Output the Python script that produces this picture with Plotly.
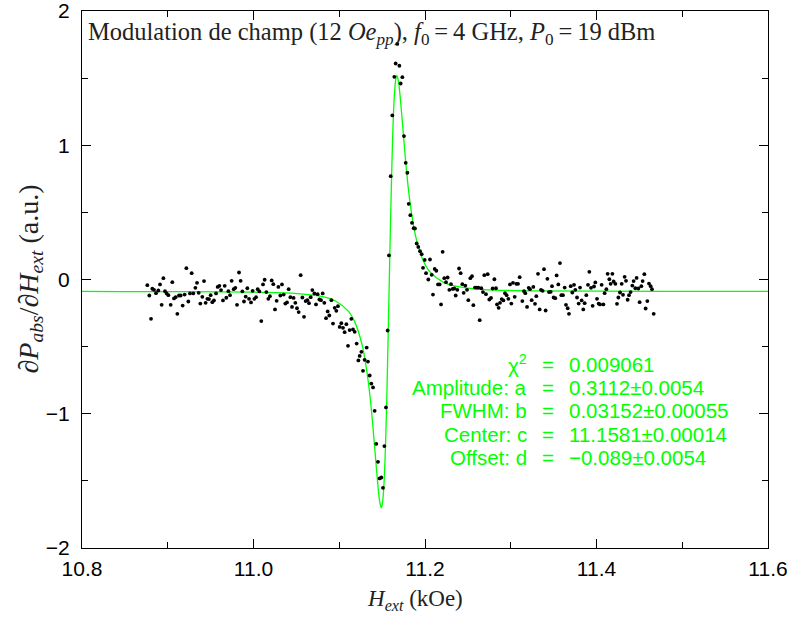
import plotly.graph_objects as go

# ---- measured points (field in kOe, derivative signal in a.u.) ----
field_koe = [
    10.8762, 10.8785, 10.8805, 10.8820, 10.8840, 10.8863, 10.8890, 10.8910, 10.8929, 10.8949,
    10.8968, 10.8987, 10.9007, 10.9034, 10.9053, 10.9073, 10.9092, 10.9112, 10.9131, 10.9151,
    10.9174, 10.9197, 10.9217, 10.9240, 10.9259, 10.9279, 10.9298, 10.9322, 10.9341, 10.9361,
    10.9380, 10.9403, 10.9423, 10.9442, 10.9462, 10.9481, 10.9500, 10.9520, 10.9539, 10.9563,
    10.9582, 10.9602, 10.9621, 10.9644, 10.9664, 10.9683, 10.9707, 10.9726, 10.9745, 10.9769,
    10.9788, 10.9808, 10.9831, 10.9850, 10.9870, 10.9889, 10.9909, 10.9928, 10.9948, 10.9971,
    10.9990, 11.0010, 11.0029, 11.0049, 11.0068, 11.0091, 11.0111, 11.0130,
    11.0150, 11.0173, 11.0192, 11.0212, 11.0231, 11.0251, 11.0270, 11.0290, 11.0313, 11.0332,
    11.0352, 11.0371, 11.0391, 11.0410, 11.0430, 11.0449, 11.0468, 11.0488, 11.0507, 11.0527,
    11.0550, 11.0570, 11.0589, 11.0608, 11.0628, 11.0647, 11.0667, 11.0686, 11.0710, 11.0729,
    11.0748, 11.0768, 11.0787, 11.0807, 11.0826, 11.0846, 11.0865, 11.0884, 11.0908, 11.0927,
    11.0947, 11.0966, 11.0985, 11.1005, 11.1024, 11.1044, 11.1063, 11.1083, 11.1102, 11.1121,
    11.1141, 11.1160, 11.1180,
    11.1203, 11.1223, 11.1238, 11.1258, 11.1277, 11.1296, 11.1320, 11.1335, 11.1355, 11.1374,
    11.1394, 11.1413, 11.1432, 11.1452, 11.1471, 11.1491, 11.1510, 11.1526, 11.1545, 11.1565,
    11.1580, 11.1600, 11.1619, 11.1642, 11.1658, 11.1677, 11.1701, 11.1716, 11.1736, 11.1755,
    11.1775, 11.1794, 11.1810, 11.1829, 11.1848, 11.1868, 11.1883, 11.1903, 11.1922, 11.1942,
    11.1961, 11.1977, 11.1996,
    11.2012, 11.2039, 11.2058, 11.2078, 11.2093, 11.2113, 11.2132, 11.2152, 11.2171, 11.2187,
    11.2206, 11.2225, 11.2245, 11.2264, 11.2284, 11.2303, 11.2323, 11.2342, 11.2358, 11.2377,
    11.2397, 11.2416, 11.2435, 11.2451, 11.2470, 11.2490, 11.2505, 11.2529, 11.2548, 11.2564,
    11.2583, 11.2603, 11.2622, 11.2638, 11.2657, 11.2676, 11.2692, 11.2711, 11.2731, 11.2750,
    11.2770, 11.2789, 11.2809, 11.2828, 11.2840, 11.2859, 11.2875, 11.2894, 11.2914, 11.2933,
    11.2952, 11.2972, 11.2991, 11.3007, 11.3026, 11.3046, 11.3065, 11.3085, 11.3104,
    11.3135, 11.3155, 11.3170, 11.3190, 11.3209, 11.3224, 11.3244, 11.3263, 11.3283, 11.3298,
    11.3318, 11.3337, 11.3353, 11.3372, 11.3388, 11.3407, 11.3427, 11.3446, 11.3466, 11.3481,
    11.3500, 11.3520, 11.3535, 11.3555, 11.3574, 11.3590, 11.3609, 11.3629, 11.3644, 11.3664,
    11.3679, 11.3699, 11.3718, 11.3738, 11.3753, 11.3773, 11.3792, 11.3808, 11.3827, 11.3846,
    11.3862, 11.3881, 11.3901, 11.3916, 11.3936, 11.3955, 11.3971, 11.3986, 11.4006, 11.4025,
    11.4041, 11.4060, 11.4080, 11.4095, 11.4115, 11.4130, 11.4150, 11.4165, 11.4185, 11.4200,
    11.4220, 11.4239, 11.4255, 11.4274, 11.4294, 11.4309, 11.4328, 11.4344, 11.4363, 11.4379,
    11.4398, 11.4418, 11.4433, 11.4453, 11.4468, 11.4488, 11.4503, 11.4523, 11.4538, 11.4558,
    11.4573, 11.4593, 11.4612, 11.4632, 11.4647, 11.4667,
]

signal_au = [
    -0.042, -0.119, -0.293, -0.069, -0.077, -0.102, -0.082, -0.037, -0.189, 0.010,
    -0.087, -0.104, -0.117, -0.189, -0.020, -0.141, -0.132, -0.256, -0.119, -0.119,
    -0.194, -0.112, 0.084, -0.164, -0.104, 0.047, -0.104, -0.062, -0.025, -0.099,
    -0.179, -0.129, -0.012, -0.174, -0.144, -0.146, -0.117, -0.169, -0.156, -0.104,
    -0.055, -0.047, -0.079, -0.156, -0.047, -0.136, -0.087, -0.117, -0.010, -0.072,
    -0.062, -0.189, 0.052, -0.010, -0.089, -0.164, -0.127, -0.065, -0.144, -0.171,
    -0.084, -0.144, -0.132, -0.072, -0.089, -0.310, -0.037, -0.002,
    -0.094, -0.144, -0.124, -0.007, -0.035, -0.223, -0.159, -0.055, -0.119, -0.037,
    -0.112, -0.179, -0.171, -0.072, -0.132, -0.204, -0.137, -0.174, -0.214, -0.243,
    0.032, -0.134, -0.278, -0.161, -0.154, -0.176, -0.132, -0.079, -0.104, -0.186,
    -0.109, -0.149, -0.154, -0.104, -0.174, -0.288, -0.238, -0.268, -0.154, -0.328,
    -0.211, -0.233, -0.199, -0.353, -0.325, -0.360, -0.392, -0.333, -0.494, -0.377,
    -0.293, -0.372, -0.390,
    -0.477, -0.603, -0.569, -0.539, -0.680, -0.598, -0.507, -0.611, -0.715, -0.775,
    -0.804, -0.978, -1.224, -1.358, -1.482, -1.475, -1.552, -1.241, -0.953, -0.380,
    0.179, 0.770, 1.222, 1.510, 1.609, 1.755, 1.592, 1.460, 1.507, 1.068,
    0.869, 0.795, 0.564, 0.479, 0.422, 0.382, 0.380, 0.268, 0.243, 0.211,
    0.189, 0.087, 0.146,
    0.047, 0.000, 0.149, 0.035, -0.112, 0.079, 0.065, -0.037, -0.037, -0.186,
    0.206, 0.010, -0.020, 0.015, -0.077, -0.035, -0.070, -0.067, -0.119, -0.077,
    0.082, 0.047, -0.035, -0.099, -0.045, -0.077, -0.154, 0.010, 0.025, -0.191,
    -0.060, -0.060, -0.060, -0.303, -0.065, -0.094, 0.032, -0.109, 0.040, -0.149,
    -0.137, -0.067, 0.002, -0.065, -0.186, -0.211, -0.174, -0.146, -0.156, -0.102,
    -0.117, -0.144, -0.037, -0.179, -0.025, -0.129, -0.032, -0.032, 0.017,
    -0.161, -0.087, -0.102, -0.204, -0.062, -0.072, -0.154, -0.055, -0.181, -0.124,
    0.042, -0.223, -0.077, -0.084, 0.077, -0.231, 0.005, -0.094, -0.092, -0.050,
    -0.134, -0.139, 0.030, -0.037, 0.122, -0.117, -0.117, -0.060, -0.189, -0.214,
    -0.256, -0.050, -0.097, -0.040, -0.077, -0.134, -0.179, -0.060, -0.156, -0.223,
    -0.176, -0.117, -0.040, 0.057, -0.062, -0.196, -0.052, -0.022, -0.144, -0.179,
    -0.186, -0.040, -0.186, -0.102, -0.072, 0.042, 0.002, -0.032, 0.042, -0.015,
    -0.032, -0.181, -0.134, -0.097, -0.032, -0.114, 0.020, -0.010, -0.151, -0.117,
    -0.094, -0.045, -0.012, -0.065, 0.012, -0.067, -0.169, -0.050, -0.012, 0.040,
    -0.216, -0.161, -0.030, -0.050, -0.072, -0.256,
]

# ---- fitted curve ----
fit_field_koe = [
    10.8000, 10.8429, 11.0005, 11.0478, 11.0793, 11.0951, 11.1108, 11.1187, 11.1266, 11.1305,
    11.1345, 11.1384, 11.1423, 11.1455, 11.1471, 11.1490, 11.1502, 11.1518, 11.1534, 11.1550,
    11.1565, 11.1581, 11.1597, 11.1613, 11.1628, 11.1644, 11.1660, 11.1672, 11.1691, 11.1707,
    11.1739, 11.1778, 11.1817, 11.1857, 11.1896, 11.1975, 11.2054, 11.2211, 11.2369, 11.2684,
    11.3157, 11.4733, 11.6000,
]
fit_signal_au = [
    -0.089, -0.090, -0.094, -0.103, -0.126, -0.158, -0.238, -0.325, -0.486, -0.615,
    -0.793, -1.033, -1.328, -1.563, -1.652, -1.699, -1.675, -1.563, -1.341, -1.006,
    -0.575, -0.089, 0.397, 0.828, 1.163, 1.385, 1.497, 1.521, 1.474, 1.385,
    1.150, 0.855, 0.615, 0.437, 0.308, 0.147, 0.060, -0.020, -0.052, -0.075,
    -0.084, -0.088, -0.089,
]

x_tick_vals = [10.8, 11.0, 11.2, 11.4, 11.6]
x_tick_text = ["10.8", "11.0", "11.2", "11.4", "11.6"]
y_tick_vals = [-2, -1, 0, 1, 2]
y_tick_text = ["\u22122", "\u22121", "0", "1", "2"]

fit_param_names = ["\u03c7<sup>2</sup>", "Amplitude: a", "FWHM: b", "Center: c", "Offset: d"]
fit_param_values = ["0.009061", "0.3112\u00b10.0054", "0.03152\u00b10.00055",
                    "11.1581\u00b10.00014", "\u22120.089\u00b10.0054"]

title_text = ("Modulation de champ (12 <i>Oe</i><sub><i>pp</i></sub>), "
              "<i>f</i><sub>0</sub>\u2009=\u20094 GHz, <i>P</i><sub>0</sub>\u2009=\u200919 dBm")
x_title = "<i>H</i><sub><i>ext</i></sub> (kOe)"
y_title = "\u2202<i>P</i><sub><i>abs</i></sub>/\u2202<i>H</i><sub><i>ext</i></sub> (a.u.)"

GREEN = "#00ff00"
SERIF = "Liberation Serif, DejaVu Serif, serif"
SANS = "Liberation Sans, Arial, sans-serif"
TXT = "#222222"

fig = go.Figure()
fig.add_trace(go.Scatter(
    x=fit_field_koe, y=fit_signal_au, mode="lines",
    line=dict(color=GREEN, width=1.3, shape="spline", smoothing=0.8),
    hoverinfo="skip", showlegend=False,
))
fig.add_trace(go.Scatter(
    x=field_koe, y=signal_au, mode="markers",
    marker=dict(color="black", size=3.8),
    showlegend=False,
))

annotations = [
    dict(text=title_text, xref="paper", yref="paper", x=0.006, y=0.958,
         xanchor="left", yanchor="middle", showarrow=False,
         font=dict(family=SERIF, size=24.5, color=TXT)),
    dict(text=x_title, xref="paper", yref="paper", x=0.486, y=-0.0968,
         xanchor="center", yanchor="middle", showarrow=False,
         font=dict(family=SERIF, size=23, color=TXT)),
    dict(text=y_title, xref="paper", yref="paper", x=-0.0758, y=0.5,
         xanchor="center", yanchor="middle", showarrow=False, textangle=-90,
         font=dict(family=SERIF, size=28, color=TXT)),
]
rows_y = [0.3426, 0.2989, 0.2561, 0.2114, 0.1676]
for name, val, yy in zip(fit_param_names, fit_param_values, rows_y):
    annotations.append(dict(text=name, xref="paper", yref="paper", x=0.651, y=yy,
                            xanchor="right", yanchor="middle", showarrow=False,
                            font=dict(family=SANS, size=20.5, color=GREEN)))
    annotations.append(dict(text="=", xref="paper", yref="paper", x=0.6793, y=yy,
                            xanchor="center", yanchor="middle", showarrow=False,
                            font=dict(family=SANS, size=20.5, color=GREEN)))
    annotations.append(dict(text=val, xref="paper", yref="paper", x=0.7070, y=yy,
                            xanchor="left", yanchor="middle", showarrow=False,
                            font=dict(family=SANS, size=20.5, color=GREEN)))

fig.update_layout(
    width=791, height=617,
    margin=dict(l=82, r=23, t=11, b=69, autoexpand=False),
    paper_bgcolor="white", plot_bgcolor="white",
    annotations=annotations,
    showlegend=False,
)
fig.update_xaxes(
    range=[10.8, 11.6], tickvals=x_tick_vals, ticktext=x_tick_text,
    ticks="inside", ticklen=9, tickwidth=1, tickcolor="black",
    minor=dict(dtick=0.1, ticks="inside", ticklen=6, tickcolor="black"),
    showline=True, linecolor="black", linewidth=1, mirror="ticks",
    showgrid=False, zeroline=False, automargin=False,
    tickfont=dict(family=SANS, size=21, color="black"),
    ticklabelstandoff=2, ticklabeloverflow="allow",
)
fig.update_yaxes(
    range=[-2, 2], tickvals=y_tick_vals, ticktext=y_tick_text,
    ticks="inside", ticklen=9, tickwidth=1, tickcolor="black",
    minor=dict(dtick=0.5, ticks="inside", ticklen=6, tickcolor="black"),
    showline=True, linecolor="black", linewidth=1, mirror="ticks",
    showgrid=False, zeroline=False, automargin=False,
    tickfont=dict(family=SANS, size=21, color="black"),
    ticklabelstandoff=7, ticklabeloverflow="allow",
)

fig.write_html(
    "out.html",
    config={"displayModeBar": False},
    post_script="document.body.style.margin='0';document.body.style.overflow='hidden';",
)
